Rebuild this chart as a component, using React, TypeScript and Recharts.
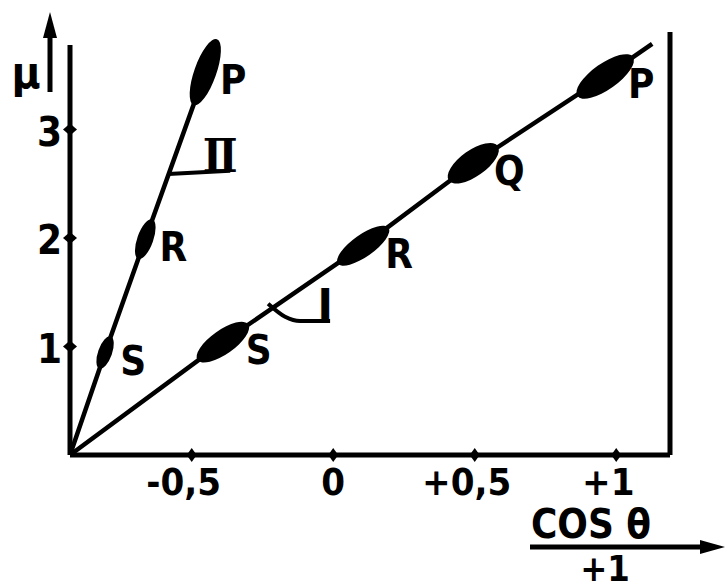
import React from 'react';
import { LineChart, Line, XAxis, YAxis, ReferenceLine } from 'recharts';

// readings: cos θ vs μ for branch I and branch II
const branchICos = [-0.93, -0.39, 0.106, 0.495, 0.961, 1.127];
const branchIMu = [0, 1.04, 1.93, 2.69, 3.49, 3.79];
const branchILabels = ['', 'S', 'R', 'Q', 'P', ''];

const branchIICos = [-0.93, -0.806, -0.664, -0.452, -0.415];
const branchIIMu = [0, 0.945, 1.99, 3.53, 3.8];
const branchIILabels = ['', 'S', 'R', 'P', ''];

// little hooks that tie the roman numerals to each branch
const hookICos = [-0.23, -0.17, -0.117, -0.011];
const hookIMu = [1.395, 1.275, 1.235, 1.235];
const hookIICos = [-0.583, -0.364];
const hookIIMu = [2.59, 2.62];

const xTicks = [-0.5, 0, 0.5, 1];
const xTickLabels = ['-0,5', '0', '+0,5', '+1'];
const yTicks = [1, 2, 3];
const yTickLabels = ['1', '2', '3'];

const X_DOMAIN: [number, number] = [-0.93, 1.19];
const Y_DOMAIN: [number, number] = [0, 3.9];
const Y_AXIS_TOP = 3.78;

const INK = '#000';
const font = {
  fontFamily: "'DejaVu Sans Condensed', 'Liberation Sans Narrow', 'DejaVu Sans', sans-serif",
  fontStretch: 'condensed',
  fontWeight: 700,
  fontSize: 40,
  fill: INK,
};

// blob half-length / half-width per marked point
const blobSize: Record<string, [number, number]> = {
  'I-S': [31, 12],
  'I-R': [31, 11],
  'I-Q': [30, 13],
  'I-P': [34, 13],
  'II-S': [17, 7],
  'II-R': [21, 8],
  'II-P': [35, 11],
};

const toRows = (cs: number[], ms: number[]) => cs.map((c, i) => ({ c, mu: ms[i] }));

function blobDot(branch: string, labels: string[], fallbackAngle: number, labelDx: number) {
  return (props: any) => {
    const { cx, cy, index, points } = props;
    const name = labels[index];
    if (!name || cx == null) return <g key={`d-${branch}-${index}`} />;
    let angle = fallbackAngle;
    if (points && points.length > 1) {
      const a = points[0];
      const b = points[points.length - 1];
      angle = (Math.atan2(b.y - a.y, b.x - a.x) * 180) / Math.PI;
    }
    const [rx, ry] = blobSize[`${branch}-${name}`];
    return (
      <g key={`d-${branch}-${index}`}>
        <ellipse cx={cx} cy={cy} rx={rx} ry={ry} fill={INK} transform={`rotate(${angle} ${cx} ${cy})`} />
        <text x={cx + labelDx} y={cy + 22} textAnchor="middle" style={font}>
          {name}
        </text>
      </g>
    );
  };
}

function numeralDot(text: string, last: number, dx: number, serif: boolean) {
  return (props: any) => {
    const { cx, cy, index } = props;
    if (index !== last || cx == null) return <g key={`n-${text}-${index}`} />;
    return (
      <text
        key={`n-${text}-${index}`}
        x={cx + dx}
        y={cy + 1}
        textAnchor="middle"
        style={serif ? { ...font, fontFamily: "'DejaVu Serif', serif", fontSize: 46 } : { ...font, fontSize: 46 }}
      >
        {text}
      </text>
    );
  };
}

const XTick = (props: any) => {
  const { x, y, payload } = props;
  const i = xTicks.indexOf(payload.value);
  const label = i >= 0 ? xTickLabels[i] : String(payload.value);
  const signed = /^[+-]/.test(label);
  return (
    <g>
      <polygon points={`${x},${y - 7} ${x + 5},${y} ${x},${y + 7} ${x - 5},${y}`} fill={INK} />
      <text x={x} y={y + 40} dx={signed ? -8 : 0} textAnchor="middle" style={{ ...font, fontSize: 38 }}>
        {label}
      </text>
    </g>
  );
};

const YTick = (props: any) => {
  const { x, y, payload } = props;
  const i = yTicks.indexOf(payload.value);
  const label = i >= 0 ? yTickLabels[i] : String(payload.value);
  return (
    <g>
      <polygon points={`${x - 7},${y} ${x},${y - 6} ${x + 7},${y} ${x},${y + 6}`} fill={INK} />
      <text x={x - 8} y={y + 16} textAnchor="end" style={font}>
        {label}
      </text>
    </g>
  );
};

export default function App() {
  const branchI = toRows(branchICos, branchIMu);
  const branchII = toRows(branchIICos, branchIIMu);
  const hookI = toRows(hookICos, hookIMu);
  const hookII = toRows(hookIICos, hookIIMu);

  return (
    <div style={{ position: 'absolute', left: 0, top: 0, width: 725, height: 588, background: '#fff' }}>
      <LineChart width={725} height={588} margin={{ top: 32, right: 55, bottom: 103, left: 0 }}>
        <XAxis
          type="number"
          dataKey="c"
          domain={X_DOMAIN}
          ticks={xTicks}
          height={30}
          tickSize={0}
          tickMargin={0}
          tickLine={false}
          axisLine={{ stroke: INK, strokeWidth: 5 }}
          tick={<XTick />}
        />
        <YAxis
          type="number"
          dataKey="mu"
          domain={Y_DOMAIN}
          ticks={yTicks}
          width={70}
          tickSize={0}
          tickMargin={0}
          tickLine={false}
          axisLine={false}
          tick={<YTick />}
        />
        <ReferenceLine
          segment={[
            { x: X_DOMAIN[0], y: 0 },
            { x: X_DOMAIN[0], y: Y_AXIS_TOP },
          ]}
          stroke={INK}
          strokeWidth={5}
        />
        <ReferenceLine x={X_DOMAIN[1]} stroke={INK} strokeWidth={5} />

        <Line
          data={branchI}
          dataKey="mu"
          type="linear"
          stroke={INK}
          strokeWidth={4.5}
          dot={blobDot('I', branchILabels, -35, 36)}
          activeDot={false}
          isAnimationActive={false}
        />
        <Line
          data={branchII}
          dataKey="mu"
          type="linear"
          stroke={INK}
          strokeWidth={4.5}
          dot={blobDot('II', branchIILabels, -70, 28)}
          activeDot={false}
          isAnimationActive={false}
        />
        <Line
          data={hookI}
          dataKey="mu"
          type="monotone"
          stroke={INK}
          strokeWidth={4}
          dot={numeralDot('I', hookI.length - 1, -5, false)}
          activeDot={false}
          isAnimationActive={false}
        />
        <Line
          data={hookII}
          dataKey="mu"
          type="linear"
          stroke={INK}
          strokeWidth={4}
          dot={numeralDot('Ⅱ', hookII.length - 1, -10, true)}
          activeDot={false}
          isAnimationActive={false}
        />

        {/* μ axis arrow and title */}
        <line x1={50} y1={92} x2={50} y2={34} stroke={INK} strokeWidth={5} />
        <polygon points="50,12 43,38 57,38" fill={INK} />
        <text x={26} y={88} textAnchor="middle" style={{ ...font, fontFamily: "'DejaVu Sans', sans-serif", fontSize: 44 }}>
          μ
        </text>

        {/* cos θ axis title with arrow */}
        <text x={591} y={538} textAnchor="middle" style={{ ...font, fontSize: 40 }}>
          COS θ
        </text>
        <line x1={530} y1={547} x2={704} y2={547} stroke={INK} strokeWidth={5} />
        <polygon points="725,547 700,540 700,554" fill={INK} />
        <text x={605} y={581} textAnchor="middle" style={{ ...font, fontSize: 36 }}>
          +1
        </text>
      </LineChart>
    </div>
  );
}
